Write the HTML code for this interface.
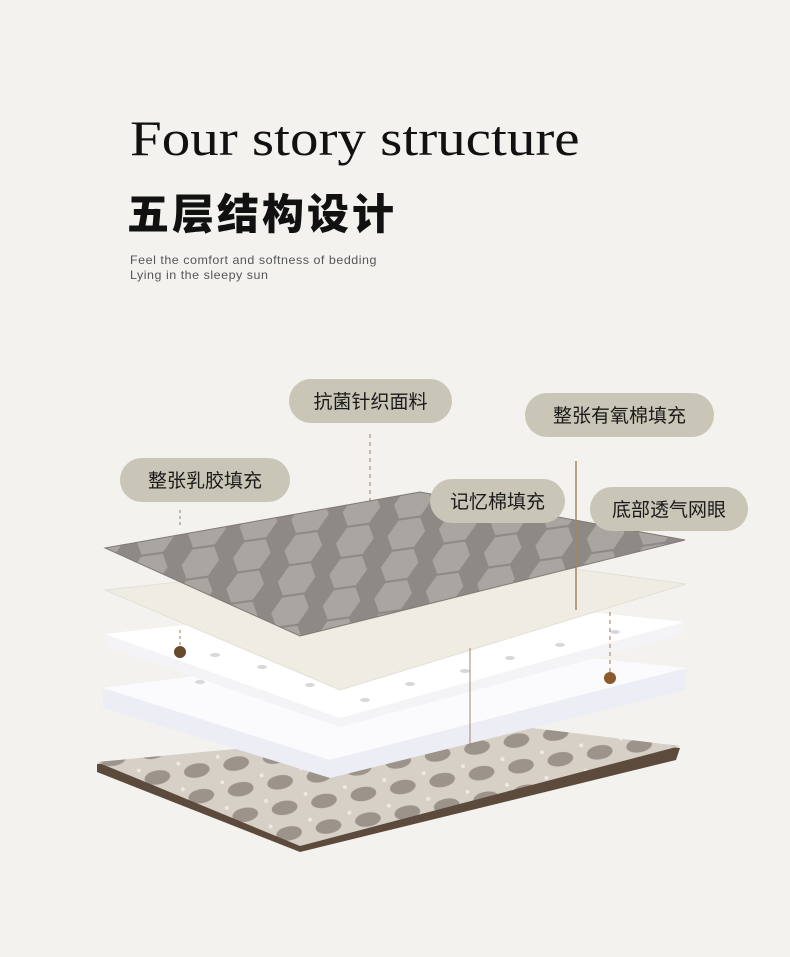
<!DOCTYPE html>
<html><head><meta charset="utf-8"><style>
html,body{margin:0;padding:0;background:#f4f2ee;}
body{width:790px;height:957px;position:relative;overflow:hidden;font-family:"Liberation Sans","Noto Sans CJK SC",sans-serif;}
.t1{position:absolute;left:130px;top:103px;font-family:"Liberation Serif","Noto Serif CJK SC",serif;font-size:50px;font-weight:300;color:#111;letter-spacing:0px;transform:scaleX(1.14);transform-origin:left top;line-height:70px;}
.t2{position:absolute;left:127px;top:186px;font-size:42px;font-weight:900;color:#111;letter-spacing:3px;line-height:52px;font-family:"Noto Sans CJK SC",sans-serif;}
.t3{position:absolute;left:130px;top:253px;font-size:12px;color:#555;line-height:15px;letter-spacing:0.5px;transform:scaleX(1.04);transform-origin:left top;}
.pill{position:absolute;background:#c9c6b8;border-radius:22px;height:44px;line-height:44px;font-size:19px;color:#1a1a1a;text-align:center;font-family:"Noto Sans CJK SC",sans-serif;}
</style></head><body>
<div class="t1">Four story structure</div>
<div class="t2">五层结构设计</div>
<div class="t3">Feel the comfort and softness of bedding<br>Lying in the sleepy sun</div>
<svg width="790" height="957" style="position:absolute;left:0;top:0">
<defs>
<pattern id="hex" width="52" height="30" patternUnits="userSpaceOnUse" patternTransform="rotate(-8) skewX(-20)">
<rect width="52" height="30" fill="#8e8985"/>
<path d="M2 15 L10 1 L32 1 L40 15 L32 29 L10 29 Z" fill="#a9a5a1"/>
<path d="M41 15 L52 15" fill="none" stroke="#a9a5a1" stroke-width="0"/>
</pattern>
<pattern id="mesh" width="40" height="26" patternUnits="userSpaceOnUse" patternTransform="rotate(-10)">
<rect width="40" height="26" fill="#d6d0c7"/>
<ellipse cx="20" cy="13" rx="13" ry="7" fill="#9c938b"/>
<circle cx="3" cy="3" r="2" fill="#eee9e2"/>
</pattern>
</defs>
<polygon points="97,764 500,726 680,748 676,760 300,852 97,772" fill="#5c4b3c"/>
<polygon points="97,762 500,724 680,746 300,846" fill="url(#mesh)"/>
<polygon points="103,690 450,645 686,670 686,690 330,778 103,708" fill="#ecedf5"/>
<polygon points="103,688 450,643 686,668 330,760" fill="#fbfbfd"/>
<polygon points="105,636 440,598 684,624 684,634 340,727 105,646" fill="#f4f4f6"/>
<polygon points="105,634 440,596 684,622 340,718" fill="#ffffff"/>
<g fill="#d8d8dc">
<ellipse cx="215" cy="655" rx="5" ry="2"/><ellipse cx="262" cy="667" rx="5" ry="2"/><ellipse cx="310" cy="685" rx="5" ry="2"/><ellipse cx="365" cy="700" rx="5" ry="2"/>
<ellipse cx="200" cy="682" rx="5" ry="2"/><ellipse cx="510" cy="658" rx="5" ry="2"/><ellipse cx="560" cy="645" rx="5" ry="2"/><ellipse cx="465" cy="671" rx="5" ry="2"/><ellipse cx="410" cy="684" rx="5" ry="2"/><ellipse cx="615" cy="632" rx="5" ry="2"/>
</g>
<polygon points="105,590 450,552 686,584 340,690" fill="#efece3" stroke="#e4e0d6"/>
<polygon points="105,548 420,492 685,540 300,636" fill="url(#hex)" stroke="#807a76"/>
<line x1="370" y1="434" x2="370" y2="502" stroke="#9b7a5c" stroke-dasharray="4,4"/>
<line x1="180" y1="510" x2="180" y2="528" stroke="#9b7a5c" stroke-dasharray="3,3"/>
<line x1="180" y1="630" x2="180" y2="650" stroke="#9b7a5c" stroke-dasharray="3,3"/>
<circle cx="180" cy="652" r="6" fill="#6a4a2a"/>
<line x1="576" y1="461" x2="576" y2="610" stroke="#a48562" stroke-width="1.5"/>
<line x1="470" y1="648" x2="470" y2="748" stroke="#a48562" stroke-width="1"/>
<line x1="610" y1="612" x2="610" y2="675" stroke="#9b7a5c" stroke-dasharray="4,4"/>
<circle cx="610" cy="678" r="6" fill="#8a5a2a"/>
</svg>
<div class="pill" style="left:289px;top:379px;width:163px">抗菌针织面料</div>
<div class="pill" style="left:525px;top:393px;width:189px">整张有氧棉填充</div>
<div class="pill" style="left:120px;top:458px;width:170px">整张乳胶填充</div>
<div class="pill" style="left:430px;top:479px;width:135px">记忆棉填充</div>
<div class="pill" style="left:590px;top:487px;width:158px">底部透气网眼</div>
</body></html>
